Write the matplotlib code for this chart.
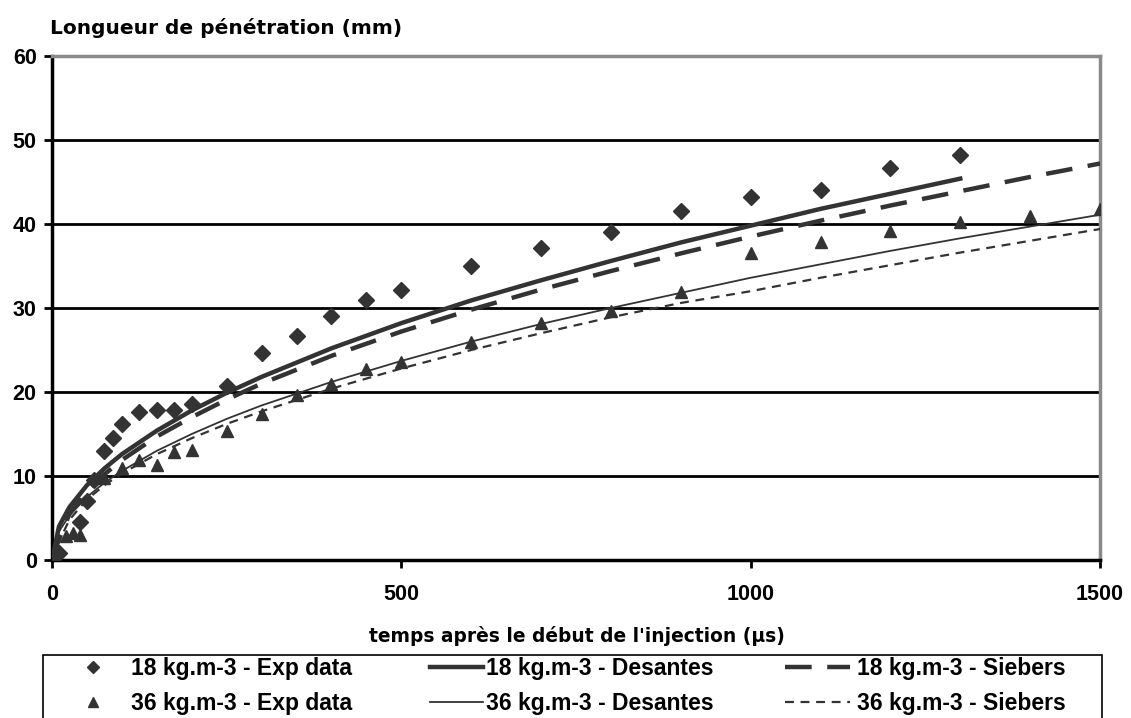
import matplotlib.pyplot as plt
from matplotlib.patches import Rectangle

# experimental points, 18 kg/m3
t_exp18 = [0, 10, 40, 50, 60, 75, 87, 100, 125, 150, 175, 200, 250, 300, 350,
           400, 450, 500, 600, 700, 800, 900, 1000, 1100, 1200, 1300]
s_exp18 = [0, 0.8, 4.5, 7.0, 9.5, 13.0, 14.5, 16.2, 17.6, 17.8, 17.9, 18.6, 20.7,
           24.6, 26.7, 29.0, 31.0, 32.1, 35.0, 37.2, 39.0, 41.6, 43.2, 44.0, 46.7, 48.2]

# experimental points, 36 kg/m3
t_exp36 = [0, 20, 30, 40, 75, 100, 125, 150, 175, 200, 250, 300, 350, 400, 450,
           500, 600, 700, 800, 900, 1000, 1100, 1200, 1300, 1400, 1500]
s_exp36 = [0, 2.8, 3.2, 3.0, 9.8, 11.0, 11.9, 11.3, 12.9, 13.1, 15.4, 17.4, 19.6,
           20.9, 22.7, 23.6, 26.0, 28.2, 29.7, 31.9, 36.5, 37.8, 39.2, 40.2, 40.9, 41.8]

# model curves
t_mod = [0, 10, 25, 50, 75, 100, 150, 200, 250, 300, 400, 500, 600, 700, 800,
         900, 1000, 1100, 1200, 1300, 1400, 1500]
s_des18 = [0, 4.0, 6.3, 8.9, 10.9, 12.6, 15.4, 17.8, 19.9, 21.8, 25.2, 28.2, 30.9,
           33.3, 35.6, 37.8, 39.8, 41.8, 43.6, 45.4]
s_sie18 = [0, 2.5, 5.5, 8.2, 10.2, 11.9, 14.7, 17.0, 19.1, 21.0, 24.3, 27.2, 29.8,
           32.2, 34.4, 36.5, 38.5, 40.4, 42.2, 43.9, 45.6, 47.2]
s_des36 = [0, 3.4, 5.3, 7.5, 9.2, 10.6, 13.0, 15.0, 16.8, 18.4, 21.2, 23.7, 26.0,
           28.1, 30.0, 31.8, 33.6, 35.2, 36.8, 38.3, 39.7, 41.1]
s_sie36 = [0, 2.2, 4.8, 7.2, 8.9, 10.3, 12.6, 14.5, 16.2, 17.7, 20.4, 22.8, 25.0,
           27.0, 28.9, 30.6, 32.0, 33.6, 35.1, 36.6, 38.0, 39.4]

x_ticks = [0, 500, 1000, 1500]
y_ticks = [0, 10, 20, 30, 40, 50, 60]

plt.rcParams["font.family"] = ["Liberation Sans", "DejaVu Sans"]

W, H = 1131, 718
ink = "#333333"
fig = plt.figure(figsize=(W / 100, H / 100), dpi=100)
ax = fig.add_axes([52 / W, 1 - 560 / H, 1048 / W, 504 / H])

for y in y_ticks[1:-1]:
    ax.axhline(y, color="black", lw=2, zorder=1)

h1, = ax.plot(t_exp18, s_exp18, ls="none", marker="D", ms=8, color=ink, zorder=4)
h2, = ax.plot(t_exp36, s_exp36, ls="none", marker="^", ms=9, color=ink, zorder=4)
h3, = ax.plot(t_mod[:len(s_des18)], s_des18, color=ink, lw=3.2, zorder=3)
h4, = ax.plot(t_mod, s_des36, color=ink, lw=1.3, zorder=3)
h5, = ax.plot(t_mod, s_sie18, color=ink, lw=3.2, dashes=(6, 3.5), zorder=3)
h6, = ax.plot(t_mod, s_sie36, color=ink, lw=1.6, dashes=(4, 3), zorder=3)

ax.set_xlim(0, 1500)
ax.set_ylim(0, 60)
ax.set_xticks(x_ticks)
ax.set_yticks(y_ticks)
ax.tick_params(direction="out", length=6, width=2, labelsize=15.5)
ax.tick_params(axis="x", pad=11)
ax.tick_params(axis="y", pad=5)
for lab in ax.get_xticklabels() + ax.get_yticklabels():
    lab.set_fontweight("bold")
for side in ["left", "bottom"]:
    ax.spines[side].set_linewidth(2.5)
for side in ["top", "right"]:
    ax.spines[side].set_color("#8a8a8a")
    ax.spines[side].set_linewidth(2.5)

fig.text(50 / W, 1 - 28 / H, "Longueur de pénétration (mm)", fontsize=14.5,
         fontweight="bold", family="DejaVu Sans", va="center")
fig.text(577 / W, 1 - 636 / H, "temps après le début de l'injection (µs)",
         fontsize=13.4, fontweight="bold", family="DejaVu Sans", ha="center", va="center")

# legend box, cut by the bottom edge of the figure
fig.patches.append(Rectangle((43 / W, -0.02), 1059 / W, (H - 655) / H + 0.02,
                             transform=fig.transFigure, fill=False,
                             edgecolor="black", lw=1.2))

leg_font = {"weight": "bold", "size": 16.5}
columns = [([h1, h2], ["18 kg.m-3 - Exp data", "36 kg.m-3 - Exp data"], 82, 1.0, 1.15),
           ([h3, h4], ["18 kg.m-3 - Desantes", "36 kg.m-3 - Desantes"], 430, 2.3, 0.13),
           ([h5, h6], ["18 kg.m-3 - Siebers", "36 kg.m-3 - Siebers"], 785, 2.85, 0.3)]
for handles, labels, x0, hl, pad in columns:
    leg = fig.legend(handles, labels, loc="center left",
                     bbox_to_anchor=(x0 / W, 1 - 686 / H), frameon=False,
                     handlelength=hl, handletextpad=pad, borderpad=0,
                     borderaxespad=0, labelspacing=0.55, prop=leg_font)
    for h in leg.legend_handles:
        if h.get_marker() == "D":
            h.set_markersize(6)
        elif h.get_marker() == "^":
            h.set_markersize(7)

fig.savefig("out.png", dpi=100)
